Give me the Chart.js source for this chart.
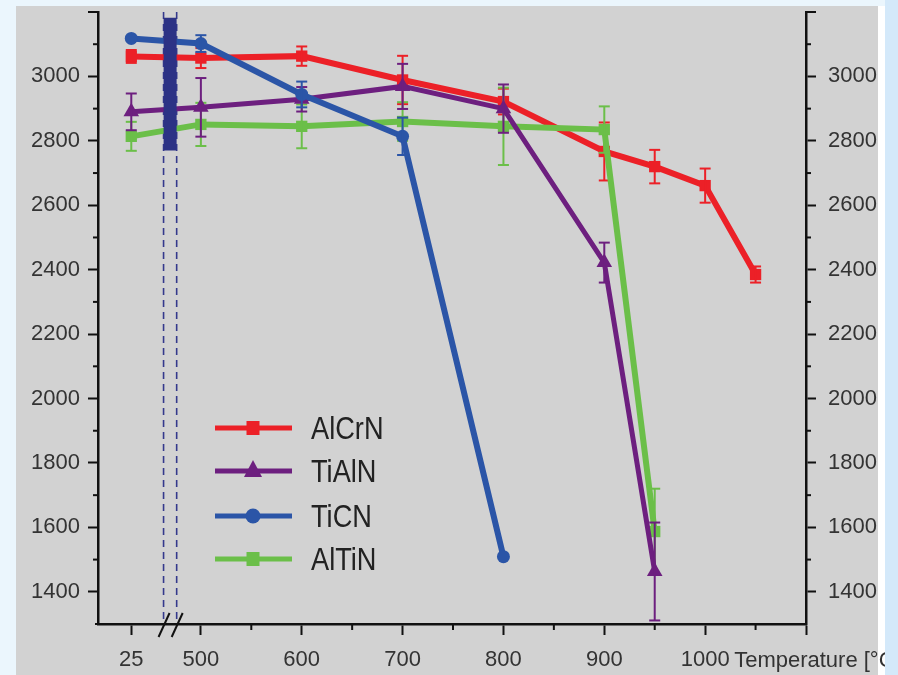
<!DOCTYPE html>
<html><head><meta charset="utf-8">
<script src="https://cdn.jsdelivr.net/npm/chart.js@4.4.1/dist/chart.umd.min.js"></script>
<style>html,body{margin:0;padding:0;background:#ebf6fd;overflow:hidden}canvas{display:block}</style>
</head><body>
<canvas id="c" width="898" height="675"></canvas>
<script>
// ---------- data ----------
const seriesNames = ['AlCrN', 'TiAlN', 'TiCN', 'AlTiN'];

const temperaturesAlCrN = [25, 500, 600, 700, 800, 900, 950, 1000, 1050];
const hardnessAlCrN     = [3062, 3057, 3063, 2989, 2922, 2767, 2720, 2661, 2385];
const errorAlCrN        = [20, 31, 30, 75, 40, 90, 52, 53, 25];

const temperaturesTiAlN = [25, 500, 600, 700, 800, 900, 950];
const hardnessTiAlN     = [2890, 2904, 2929, 2969, 2900, 2422, 1463];
const errorTiAlN        = [57, 91, 38, 70, 75, 62, 152];

const temperaturesTiCN  = [25, 500, 600, 700, 800];
const hardnessTiCN      = [3118, 3102, 2944, 2814, 1509];
const errorTiCN         = [0, 26, 40, 58, 0];

const temperaturesAlTiN = [25, 500, 600, 700, 800, 900, 950];
const hardnessAlTiN     = [2814, 2851, 2845, 2860, 2845, 2835, 1587];
const errorAlTiN        = [45, 67, 68, 60, 120, 72, 133];

const xTickLabels   = [25, 500, 600, 700, 800, 900, 1000];
const xMinorTicks   = [550, 650, 750, 850, 950, 1050];
const yTickLabels   = [1400, 1600, 1800, 2000, 2200, 2400, 2600, 2800, 3000];
const yMinorTicks   = [1500, 1700, 1900, 2100, 2300, 2500, 2700, 2900, 3100];

// broken x axis: the 25 °C point sits left of the break
const X_MIN = 398, X_MAX = 1100, Y_MIN = 1300, Y_MAX = 3200;
const BREAK_SEGMENT_POS = 431;          // axis position used for temperatures below the break
const breakLines = [463, 476];          // axis positions of the dashed break lines
const breakBarX = 469.5;
const breakBand = [2770, 3182];         // vertical extent of the dark band at the break
const toAxis = t => (t < 400 ? BREAK_SEGMENT_POS : t);

const FONT = '"Liberation Sans", Arial, Helvetica, sans-serif';
const COLORS = { AlCrN: '#ec2027', TiAlN: '#6d1f7f', TiCN: '#2b55a7', AlTiN: '#6bbf49' };
const NAVY = '#2c3285';

function pts(ts, vs) { return ts.map((t, i) => ({ x: toAxis(t), y: vs[i] })); }

const errorsByIndex = [errorAlCrN, errorTiAlN, errorTiCN, errorAlTiN];

const datasets = [
  { label: 'AlCrN', data: pts(temperaturesAlCrN, hardnessAlCrN), borderColor: COLORS.AlCrN, backgroundColor: COLORS.AlCrN,
    borderWidth: 6, pointStyle: 'rect', pointRadius: 8, order: 4 },
  { label: 'TiAlN', data: pts(temperaturesTiAlN, hardnessTiAlN), borderColor: COLORS.TiAlN, backgroundColor: COLORS.TiAlN,
    borderWidth: 5, pointStyle: 'triangle', pointRadius: 9, order: 2 },
  { label: 'TiCN', data: pts(temperaturesTiCN, hardnessTiCN), borderColor: COLORS.TiCN, backgroundColor: COLORS.TiCN,
    borderWidth: 6, pointStyle: 'circle', pointRadius: 6.5, order: 1 },
  { label: 'AlTiN', data: pts(temperaturesAlTiN, hardnessAlTiN), borderColor: COLORS.AlTiN, backgroundColor: COLORS.AlTiN,
    borderWidth: 6, pointStyle: 'rect', pointRadius: 8, order: 3 }
];
datasets.forEach(d => { d.pointBorderWidth = 0; d.tension = 0; d.fill = false; d.clip = false; });

function line(ctx, x1, y1, x2, y2) { ctx.beginPath(); ctx.moveTo(x1, y1); ctx.lineTo(x2, y2); ctx.stroke(); }

const decor = {
  id: 'decor',
  beforeDraw(chart) {
    const { ctx, width, height } = chart;
    ctx.save();
    ctx.fillStyle = '#ebf6fd'; ctx.fillRect(0, 0, width, height);
    ctx.fillStyle = '#d2d2d2'; ctx.fillRect(16, 6, 862, height - 6);
    ctx.fillStyle = '#ffffff'; ctx.fillRect(878, 6, 7, height - 6);
    ctx.restore();
  },
  beforeDatasetsDraw(chart) {
    const { ctx, chartArea, scales } = chart;
    ctx.save();
    ctx.strokeStyle = '#34398c'; ctx.lineWidth = 1.6; ctx.setLineDash([7, 5]);
    breakLines.forEach(v => { const x = scales.x.getPixelForValue(v); line(ctx, x, chartArea.top, x, chartArea.bottom); });
    ctx.restore();
  },
  afterDatasetDraw(chart, args) {
    const errs = errorsByIndex[args.index];
    if (!errs) return;
    const { ctx, scales } = chart;
    const ds = chart.data.datasets[args.index];
    ctx.save();
    ctx.setLineDash([]);
    ctx.strokeStyle = ds.borderColor; ctx.lineWidth = 2;
    ds.data.forEach((p, i) => {
      const e = errs[i]; if (!e) return;
      const x = scales.x.getPixelForValue(p.x);
      const y1 = scales.y.getPixelForValue(p.y + e), y2 = scales.y.getPixelForValue(p.y - e);
      line(ctx, x, y1, x, y2);
      line(ctx, x - 5.5, y1, x + 5.5, y1);
      line(ctx, x - 5.5, y2, x + 5.5, y2);
    });
    ctx.restore();
  },
  afterDatasetsDraw(chart) {
    const { ctx, scales } = chart;
    ctx.save();
    ctx.setLineDash([]);
    ctx.strokeStyle = NAVY; ctx.lineWidth = 13; ctx.lineCap = 'butt';
    const x = scales.x.getPixelForValue(breakBarX);
    line(ctx, x, scales.y.getPixelForValue(breakBand[1]), x, scales.y.getPixelForValue(breakBand[0]));
    ctx.restore();
  },
  afterDraw(chart) {
    const { ctx, chartArea, scales } = chart;
    const { left, right, top, bottom } = chartArea;
    ctx.save();
    ctx.setLineDash([]);
    ctx.strokeStyle = '#111'; ctx.lineWidth = 2;
    // minor ticks + top caps
    yMinorTicks.forEach(v => {
      const y = scales.y.getPixelForValue(v);
      line(ctx, left - 5, y, left, y);
      line(ctx, right, y, right + 5, y);
    });
    const yt = scales.y.getPixelForValue(Y_MAX);
    line(ctx, left - 10, yt, left + 1, yt);
    line(ctx, right - 1, yt, right + 10, yt);
    xMinorTicks.forEach(v => { const x = scales.x.getPixelForValue(v); line(ctx, x, bottom, x, bottom + 6); });
    line(ctx, left - 3, bottom, left, bottom);
    // break marks on the x axis
    breakLines.forEach(v => { const x = scales.x.getPixelForValue(v); line(ctx, x - 5, bottom + 13, x + 6, bottom - 11); });

    // legend
    const lx1 = 215, lx2 = 292, mx = 253, tx = 311;
    const rows = [428, 471, 516, 559];
    seriesNames.forEach((name, i) => {
      const y = rows[i], c = COLORS[name];
      ctx.strokeStyle = c; ctx.fillStyle = c; ctx.lineWidth = 5;
      line(ctx, lx1, y, lx2, y);
      ctx.beginPath();
      if (name === 'TiAlN') { ctx.moveTo(mx, y - 11); ctx.lineTo(mx + 9, y + 6); ctx.lineTo(mx - 9, y + 6); ctx.closePath(); ctx.fill(); }
      else if (name === 'TiCN') { ctx.arc(mx, y, 7.5, 0, Math.PI * 2); ctx.fill(); }
      else { ctx.fillRect(mx - 6.5, y - 7, 13, 14); }
      ctx.save();
      ctx.translate(tx, y + 10.5); ctx.scale(0.85, 1);
      ctx.fillStyle = '#222'; ctx.font = '32px ' + FONT; ctx.textBaseline = 'alphabetic'; ctx.textAlign = 'left';
      ctx.fillText(name, 0, 0);
      ctx.restore();
    });

    // axis title
    ctx.fillStyle = '#333'; ctx.font = '22px ' + FONT; ctx.textBaseline = 'alphabetic'; ctx.textAlign = 'left';
    ctx.fillText('Temperature [°C]', scales.x.getPixelForValue(1000) + 29, 667);
    // right frame strip (clips the title)
    ctx.fillStyle = '#d4e9fa'; ctx.fillRect(885, 0, 13, 675);
    ctx.restore();
  }
};

const tickFont = { family: FONT, size: 22 };
const noPad = s => { s.paddingTop = 0; s.paddingBottom = 0; s.paddingLeft = 0; s.paddingRight = 0; };
const axisCommon = {
  type: 'linear', min: Y_MIN, max: Y_MAX,
  afterBuildTicks: s => { s.ticks = yTickLabels.map(v => ({ value: v })); },
  grid: { drawOnChartArea: false, drawTicks: true, tickLength: 10, tickWidth: 2, tickColor: '#111' },
  border: { display: true, color: '#111', width: 2.5 }
};

new Chart(document.getElementById('c'), {
  type: 'line',
  data: { datasets },
  options: {
    responsive: false, animation: false, devicePixelRatio: 1,
    layout: { padding: { top: 12, left: 0, right: 0, bottom: 0 } },
    plugins: { legend: { display: false }, tooltip: { enabled: false } },
    scales: {
      x: {
        type: 'linear', position: 'bottom', min: X_MIN, max: X_MAX,
        afterBuildTicks: s => { s.ticks = xTickLabels.map(t => ({ value: toAxis(t) })).concat([{ value: X_MAX }]); },
        afterFit: s => { s.height = 51; noPad(s); },
        ticks: {
          autoSkip: false, maxRotation: 0, minRotation: 0, font: tickFont, color: '#333', padding: 12,
          callback: v => { const i = xTickLabels.findIndex(t => toAxis(t) === v); return i >= 0 ? String(xTickLabels[i]) : ''; }
        },
        grid: { drawOnChartArea: false, drawTicks: true, tickLength: 11, tickWidth: 2, tickColor: '#111' },
        border: { display: true, color: '#111', width: 2.5 }
      },
      y: Object.assign({}, axisCommon, {
        position: 'left',
        afterFit: s => { s.width = 98; noPad(s); },
        ticks: { font: tickFont, color: '#333', padding: 8, callback: v => String(v) }
      }),
      y2: Object.assign({}, axisCommon, {
        position: 'right',
        afterFit: s => { s.width = 92; noPad(s); },
        ticks: { font: tickFont, color: '#333', padding: 12, callback: v => String(v) }
      })
    }
  },
  plugins: [decor]
});
</script>
</body></html>
